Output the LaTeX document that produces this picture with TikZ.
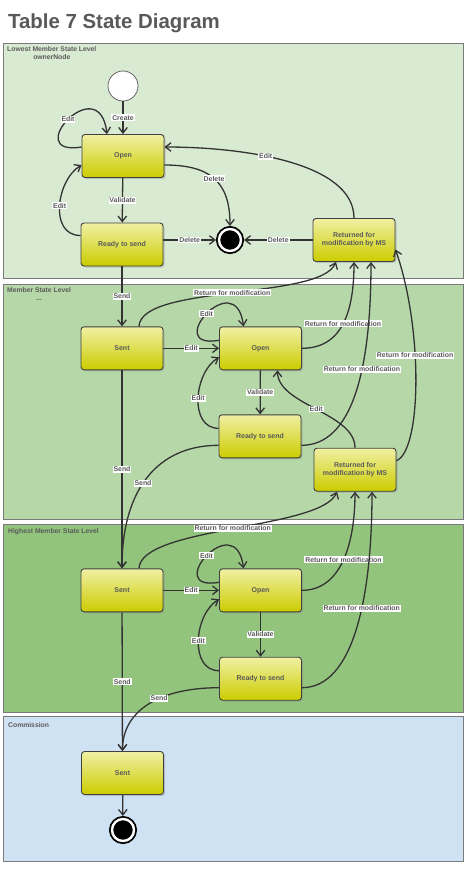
\documentclass[tikz,border=0pt]{standalone}
\usepackage{fontspec}
\setmainfont{Liberation Sans}
\usepackage{tikz}
\usetikzlibrary{arrows.meta,shadows}
\definecolor{TitleGray}{HTML}{595959}
\definecolor{TextGray}{HTML}{5A5A5A}
\definecolor{LineGray}{HTML}{333333}
\definecolor{LaneEdge}{HTML}{7A7A7A}
\definecolor{LaneOne}{HTML}{D9EAD3}
\definecolor{LaneTwo}{HTML}{B6D7A8}
\definecolor{LaneThree}{HTML}{93C47D}
\definecolor{LaneFour}{HTML}{CFE2F3}
\definecolor{StateTop}{HTML}{F0F0A4}
\definecolor{StateBottom}{HTML}{CCCC00}

\begin{document}
\begin{tikzpicture}[x=1pt,y=1pt,
lane/.style={draw=LaneEdge,line width=0.8pt},
lanelabel/.style={anchor=north west,align=center,inner sep=0pt,font=\fontsize{6.8}{8}\selectfont\bfseries,text=TextGray},
state/.style={draw=black!75,line width=0.9pt,rounded corners=3pt,minimum width=82pt,minimum height=43pt,align=center,top color=StateTop,bottom color=StateBottom,drop shadow={shadow xshift=1.5pt,shadow yshift=-1.5pt,opacity=0.35},font=\fontsize{7}{8.3}\selectfont\bfseries,text=TextGray},
initial/.style={circle,draw=black!60,fill=white,line width=0.8pt,minimum size=30pt,inner sep=0pt},
final/.style={circle,draw=black,fill=black,line width=1.8pt,double=white,double distance=2.4pt,minimum size=22pt,inner sep=0pt,outer sep=3pt},
lbl/.style={fill=white,inner sep=0.9pt,font=\fontsize{6.9}{7}\selectfont\bfseries,text=TextGray},
arr/.style={-{Straight Barb[length=5.5pt,width=8.5pt]},line width=1.3pt,draw=LineGray}
]
\useasboundingbox (0,0) rectangle (475,-873);
\fill[white] (0,0) rectangle (475,-873);
\node[anchor=base west,inner sep=0pt,font=\fontsize{20.4}{24}\selectfont\bfseries,text=TitleGray] (title) at (8,-28.3) {Table 7 State Diagram};

\filldraw[lane,fill=LaneOne] (3.5,-43.5) rectangle (463.5,-278);
\filldraw[lane,fill=LaneTwo] (3.5,-284) rectangle (463.5,-519);
\filldraw[lane,fill=LaneThree] (3.5,-524) rectangle (463.5,-712.5);
\filldraw[lane,fill=LaneFour] (3.5,-716) rectangle (463.5,-861.5);
\node[lanelabel] (lane1) at (7,-46.5) {Lowest Member State Level\\ownerNode};
\node[lanelabel] (lane2) at (7,-287) {Member State Level\\...};
\node[lanelabel] (lane3) at (8,-528) {Highest Member State Level};
\node[lanelabel] (lane4) at (8,-722) {Commission};

\node[initial] (ini) at (123,-86) {};
\node[state] (open1) at (123,-156) {Open};
\node[state] (ready1) at (122,-244.5) {Ready to send};
\node[final] (fin1) at (230,-240) {};
\node[state] (ret1) at (354,-240) {Returned for\\modification by MS};

\node[state] (sent2) at (122,-348.3) {Sent};
\node[state] (open2) at (260.5,-348.3) {Open};
\node[state] (ready2) at (260,-436.3) {Ready to send};
\node[state] (ret2) at (355,-469.7) {Returned for\\modification by MS};

\node[state] (sent3) at (122,-590.3) {Sent};
\node[state] (open3) at (260.5,-590.3) {Open};
\node[state] (ready3) at (260.5,-678.7) {Ready to send};

\node[state] (sent4) at (122.5,-773) {Sent};
\node[final] (fin4) at (123,-830) {};

\draw[arr] (ini) -- node[lbl]{Create} (open1);
\draw[arr] ([yshift=9pt]open1.west) .. controls +(-62,-10) and +(-8,66) .. node[lbl]{Edit} ([xshift=-16pt]open1.north);
\draw[arr] (open1) -- node[lbl]{Validate} (ready1);
\draw[arr] ([yshift=9pt]ready1.west) .. controls +(-32,0) and +(-25,-15) .. node[lbl]{Edit} ([yshift=-9pt]open1.west);
\draw[arr] ([yshift=-9pt]open1.east) .. controls +(45,0) and +(0,45) .. node[lbl]{Delete} (fin1.north);
\draw[arr] (ready1.east |- fin1) -- node[lbl]{Delete} (fin1);
\draw[arr] (ret1) -- node[lbl]{Delete} (fin1);
\draw[arr] (ret1.north) .. controls +(0,55) and +(80,0) .. node[lbl,pos=0.6]{Edit} ([yshift=9pt]open1.east);

\draw[arr] (ready1) -- node[lbl]{Send} (sent2);
\draw[arr] ([xshift=17pt]sent2.north) .. controls +(2,42) and +(-16,-38) .. node[lbl]{Return for modification} ([xshift=-18pt]ret1.south);
\draw[arr] ([yshift=8pt]open2.west) .. controls +(-58,-10) and +(-8,62) .. node[lbl]{Edit} ([xshift=-17pt]open2.north);
\draw[arr] (sent2) -- node[lbl]{Edit} (open2);
\draw[arr] (open2.east) .. controls +(40,0) and +(0,-50) .. node[lbl]{Return for modification} (ret1.south);
\draw[arr] (open2) -- node[lbl]{Validate} (ready2);
\draw[arr] ([yshift=8pt]ready2.west) .. controls +(-30,0) and +(-25,-15) .. node[lbl]{Edit} ([yshift=-9pt]open2.west);
\draw[arr] ([yshift=-9pt]ready2.east) .. controls +(50,0) and +(0,-110) .. node[lbl,pos=0.62]{Return for modification} ([xshift=17pt]ret1.south);
\draw[arr] (ret2.north) .. controls +(0,35) and +(0,-35) .. node[lbl]{Edit} ([xshift=17pt]open2.south);
\draw[arr] ([yshift=9pt]ret2.east) .. controls +(25,10) and +(28,-80) .. node[lbl,pos=0.6]{Return for modification} ([yshift=-9.5pt]ret1.east);
\draw[arr] ([yshift=-9pt]ready2.west) .. controls +(-60,0) and +(0,80) .. node[lbl,pos=0.55]{Send} (sent3.north);
\draw[arr] (sent2) -- node[lbl]{Send} (sent3);

\draw[arr] ([xshift=17pt]sent3.north) .. controls +(2,42) and +(-16,-38) .. node[lbl]{Return for modification} ([xshift=-18pt]ret2.south);
\draw[arr] ([yshift=8pt]open3.west) .. controls +(-58,-10) and +(-8,62) .. node[lbl]{Edit} ([xshift=-17pt]open3.north);
\draw[arr] (sent3) -- node[lbl]{Edit} (open3);
\draw[arr] (open3.east) .. controls +(40,0) and +(0,-50) .. node[lbl]{Return for modification} (ret2.south);
\draw[arr] (open3) -- node[lbl]{Validate} (ready3);
\draw[arr] ([yshift=8pt]ready3.west) .. controls +(-30,0) and +(-25,-15) .. node[lbl]{Edit} ([yshift=-9pt]open3.west);
\draw[arr] ([yshift=-9pt]ready3.east) .. controls +(50,0) and +(0,-110) .. node[lbl,pos=0.6]{Return for modification} ([xshift=17pt]ret2.south);
\draw[arr] ([yshift=-9pt]ready3.west) .. controls +(-60,0) and +(0,40) .. node[lbl,pos=0.4]{Send} (sent4.north);
\draw[arr] (sent3) -- node[lbl]{Send} (sent4);

\draw[arr] (sent4) -- (fin4);
\end{tikzpicture}
\end{document}
